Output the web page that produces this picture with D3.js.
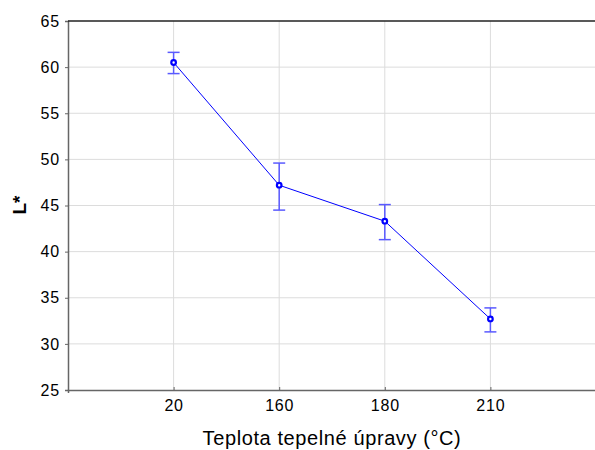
<!DOCTYPE html>
<html><head><meta charset="utf-8">
<script src="https://cdn.jsdelivr.net/npm/d3@7"></script>
<style>body{margin:0;background:#fff;}svg{display:block;font-family:"Liberation Sans",Arial,sans-serif;}</style>
</head><body>
<svg id="c" width="595" height="450"></svg>
<script>
const categories = ["20","160","180","210"];
const means = [60.5, 47.2, 43.3, 32.7];
const upper = [61.6, 49.6, 45.1, 33.9];
const lower = [59.3, 44.5, 41.3, 31.3];
const yTicks = [25,30,35,40,45,50,55,60,65];

const svg = d3.select("#c");
const L = 68, R = 596, T = 21, B = 390;
const x = d3.scaleLinear().domain([0, 5]).range([L, R]);
const y = d3.scaleLinear().domain([25, 65]).range([B, T]);
const data = categories.map((c,i)=>({c, i:i+1, m:means[i], u:upper[i], l:lower[i]}));

// grid
svg.append("g").selectAll("line").data(yTicks.slice(1,-1)).join("line")
  .attr("x1", L).attr("x2", R).attr("y1", d=>y(d)).attr("y2", d=>y(d))
  .attr("stroke", "#dcdcdc").attr("stroke-width", 1);
svg.append("g").selectAll("line").data(data).join("line")
  .attr("x1", d=>x(d.i)).attr("x2", d=>x(d.i)).attr("y1", T).attr("y2", B)
  .attr("stroke", "#dcdcdc").attr("stroke-width", 1);

// axes
const yAxis = d3.axisLeft(y).tickValues(yTicks).tickSize(3).tickPadding(5);
const gy = svg.append("g").attr("transform", `translate(${L},0)`).call(yAxis);
gy.select(".domain").attr("stroke", "#666").attr("stroke-width", 1.5);
gy.selectAll(".tick line").attr("stroke", "#666");
gy.selectAll("text").attr("font-size", 16).attr("letter-spacing", 0.8).attr("fill", "#000");

const xAxis = d3.axisBottom(x).tickValues(data.map(d=>d.i)).tickFormat((d,i)=>categories[i]).tickSize(3).tickPadding(7);
const gx = svg.append("g").attr("transform", `translate(0,${B})`).call(xAxis);
gx.select(".domain").attr("stroke", "#666").attr("stroke-width", 1.5);
gx.selectAll(".tick line").attr("stroke", "#666").attr("y1", -3).attr("y2", 0);
gx.selectAll("text").attr("font-size", 16).attr("letter-spacing", 0.8).attr("fill", "#000");

// top frame
svg.append("line").attr("x1", L).attr("x2", R).attr("y1", T).attr("y2", T)
  .attr("stroke", "#222").attr("stroke-width", 1.5);

// error bars
const eb = svg.append("g").attr("stroke", "#5a5aff").attr("stroke-width", 1.5);
data.forEach(d=>{
  eb.append("line").attr("x1", x(d.i)).attr("x2", x(d.i)).attr("y1", y(d.u)).attr("y2", y(d.l));
  eb.append("line").attr("x1", x(d.i)-6).attr("x2", x(d.i)+6).attr("y1", y(d.u)).attr("y2", y(d.u));
  eb.append("line").attr("x1", x(d.i)-6).attr("x2", x(d.i)+6).attr("y1", y(d.l)).attr("y2", y(d.l));
});

// line
svg.append("path").datum(data)
  .attr("d", d3.line().x(d=>x(d.i)).y(d=>y(d.m)))
  .attr("fill", "none").attr("stroke", "#0000ff").attr("stroke-width", 1);

svg.append("g").selectAll("circle").data(data).join("circle")
  .attr("cx", d=>x(d.i)).attr("cy", d=>y(d.m)).attr("r", 2.3)
  .attr("fill", "#fff").attr("stroke", "#0000ff").attr("stroke-width", 2.2);

// titles
svg.append("text").attr("x", 332).attr("y", 445).attr("text-anchor", "middle")
  .attr("font-size", 20).attr("letter-spacing", 0.6).attr("fill", "#000").text("Teplota tepelné úpravy (°C)");
svg.append("text").attr("transform", "translate(26,205) rotate(-90)").attr("text-anchor", "middle")
  .attr("font-size", 19).attr("font-weight", "bold").attr("fill", "#000").text("L*");
</script>
</body></html>
